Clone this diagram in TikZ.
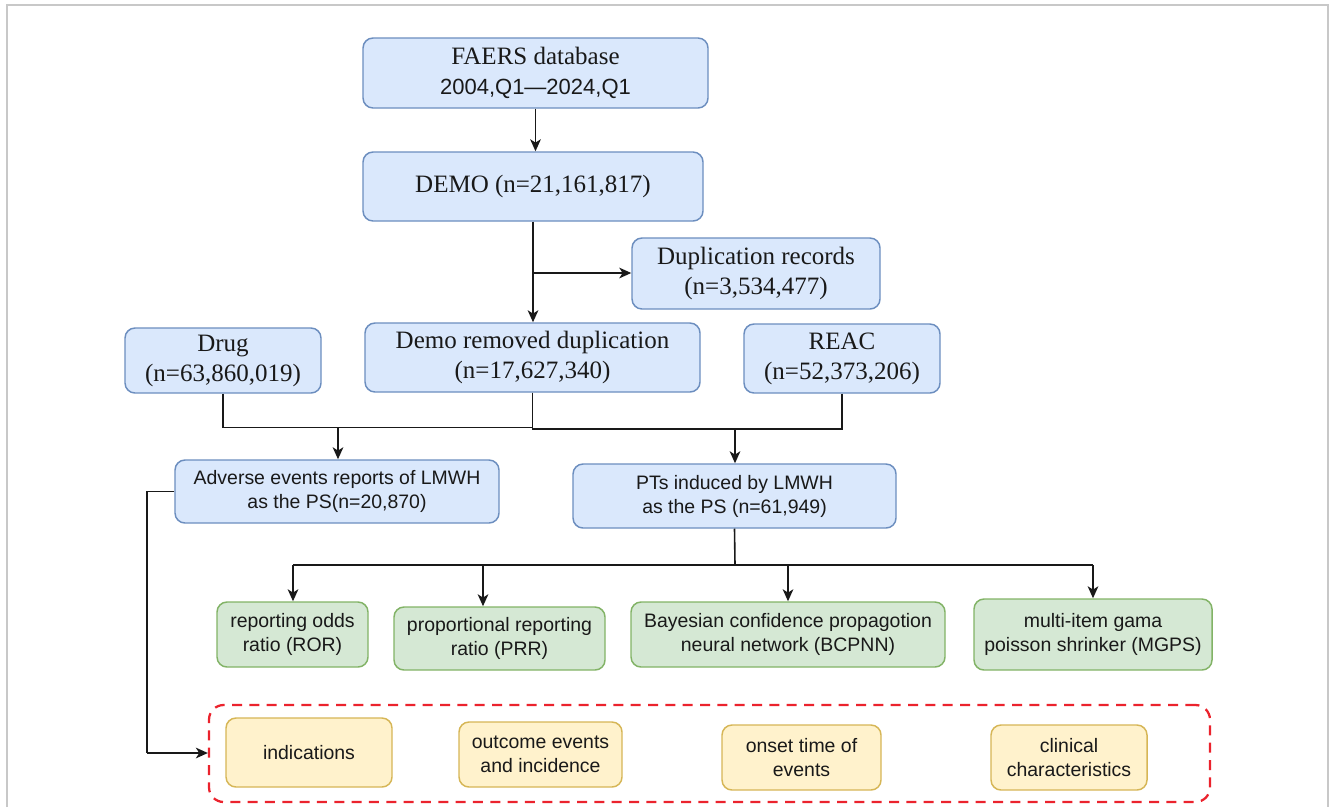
\documentclass[tikz,border=0pt]{standalone}
\usepackage{fontspec}
\setmainfont{Liberation Serif}
\setsansfont{Liberation Sans}
\usetikzlibrary{arrows.meta,calc}
\definecolor{bfill}{HTML}{DAE8FC}
\definecolor{bstroke}{HTML}{6C8EBF}
\definecolor{gfill}{HTML}{D5E8D4}
\definecolor{gstroke}{HTML}{82B366}
\definecolor{yfill}{HTML}{FFF2CC}
\definecolor{ystroke}{HTML}{D6B656}
\definecolor{redc}{RGB}{235,35,45}
\definecolor{framec}{RGB}{200,200,200}
\definecolor{txt}{RGB}{25,25,25}
\tikzset{
  base/.style={rounded corners=7.5pt, line width=1.1pt, align=center, inner sep=0pt, text=txt},
  bluebox/.style={base, draw=bstroke, fill=bfill},
  greenbox/.style={base, draw=gstroke, fill=gfill},
  yellowbox/.style={base, draw=ystroke, fill=yfill},
  serif/.style={font=\rmfamily\fontsize{18.75}{22.5}\selectfont},
  sansf/.style={font=\sffamily\fontsize{14.6}{18}\selectfont},
  arr/.style={-{Stealth[length=9pt,width=8pt,inset=2.5pt]}, line width=1.2pt, draw=txt},
  conn/.style={line width=1.2pt, draw=txt},
  group/.style={draw=redc, line width=1.7pt, dash pattern=on 7.5pt off 5.5pt, rounded corners=11pt, inner sep=0pt}
}
\begin{document}
\begin{tikzpicture}[x=0.75pt,y=-0.75pt]
\useasboundingbox (0,0) rectangle (1330,807);
\draw[framec, line width=1.2pt] (7,807) -- (7,5) -- (1328,5) -- (1328,807);

% top blue boxes (serif)
\node[bluebox, serif, minimum width=345*0.75pt, minimum height=70*0.75pt] (faers) at (535.5,73)
  {FAERS database\\{\sffamily\fontsize{16.5}{22.5}\selectfont 2004,Q1—2024,Q1}};
\node[bluebox, serif, minimum width=340*0.75pt, minimum height=69*0.75pt] (demo) at (533,186.5)
  {DEMO (n=21,161,817)};
\node[bluebox, serif, minimum width=248*0.75pt, minimum height=71*0.75pt] (dup) at (756,273.5)
  {Duplication records\\(n=3,534,477)};
\node[bluebox, serif, minimum width=196*0.75pt, minimum height=65*0.75pt] (drug) at (223,360.5)
  {Drug\\(n=63,860,019)};
\node[bluebox, serif, minimum width=335*0.75pt, minimum height=69*0.75pt] (dr) at (532.5,357.5)
  {Demo removed duplication\\(n=17,627,340)};
\node[bluebox, serif, minimum width=196*0.75pt, minimum height=69*0.75pt] (reac) at (842,358.5)
  {REAC\\(n=52,373,206)};

% blue boxes (sans)
\node[bluebox, sansf, minimum width=324*0.75pt, minimum height=63*0.75pt] (adv) at (337,491.5)
  {Adverse events reports of LMWH\\as the PS(n=20,870)};
\node[bluebox, sansf, minimum width=323*0.75pt, minimum height=64*0.75pt] (pts) at (734.5,496)
  {PTs induced by LMWH\\as the PS (n=61,949)};

% green method boxes
\node[greenbox, sansf, minimum width=151*0.75pt, minimum height=65*0.75pt] (ror) at (292.5,634.5)
  {reporting odds\\ratio (ROR)};
\node[greenbox, sansf, minimum width=211*0.75pt, minimum height=63*0.75pt] (prr) at (499.5,638.5)
  {proportional reporting\\ratio (PRR)};
\node[greenbox, sansf, minimum width=314*0.75pt, minimum height=65*0.75pt] (bcp) at (788,634.5)
  {Bayesian confidence propagotion\\neural network (BCPNN)};
\node[greenbox, sansf, minimum width=238*0.75pt, minimum height=71*0.75pt] (mgps) at (1093,634.5)
  {multi-item gama\\poisson shrinker (MGPS)};

% dashed group
\node[group, minimum width=1001*0.75pt, minimum height=97*0.75pt] (grp) at (709.5,753.5) {};
\node[yellowbox, sansf, minimum width=166*0.75pt, minimum height=69*0.75pt] (ind) at (309,752.5)
  {indications};
\node[yellowbox, sansf, minimum width=163*0.75pt, minimum height=65*0.75pt] (out) at (540.5,754.5)
  {outcome events\\and incidence};
\node[yellowbox, sansf, minimum width=159*0.75pt, minimum height=65*0.75pt] (ons) at (801.5,757.5)
  {onset time of\\events};
\node[yellowbox, sansf, minimum width=156*0.75pt, minimum height=65*0.75pt] (cli) at (1069,757.5)
  {clinical\\characteristics};

% junction coordinates
\coordinate (j1) at (533,273);
\coordinate (j2) at (338,427.5);
\coordinate (j3) at (735,429);
\coordinate (hub) at (735,565);
\coordinate (b1) at (293,565);
\coordinate (b2) at (483,565);
\coordinate (b3) at (788,565);
\coordinate (b4) at (1093,565);
\coordinate (c1) at (147,753);

% connectors
\draw[arr] (faers.south) -- (faers.south |- demo.north);
\draw[arr] (demo.south) -- (demo.south |- dr.north);
\draw[arr] (j1) -- (j1 -| dup.west);
\draw[conn] (drug.south) |- (j2);
\draw[conn] (dr.south) |- (j2);
\draw[arr] (j2) -- (j2 |- adv.north);
\draw[conn] (dr.south) |- (j3);
\draw[conn] (reac.south) |- (j3);
\draw[arr] (j3) -- (j3 |- pts.north);
\draw[conn] (pts.south) -- (hub);
\draw[conn] (b1) -- (b4);
\draw[arr] (b1) -- (b1 |- ror.north);
\draw[arr] (b2) -- (b2 |- prr.north);
\draw[arr] (b3) -- (b3 |- bcp.north);
\draw[arr] (b4) -- (b4 |- mgps.north);
\draw[conn] (adv.west) -| (c1);
\draw[arr] (c1) -- (c1 -| grp.west);
\end{tikzpicture}
\end{document}
